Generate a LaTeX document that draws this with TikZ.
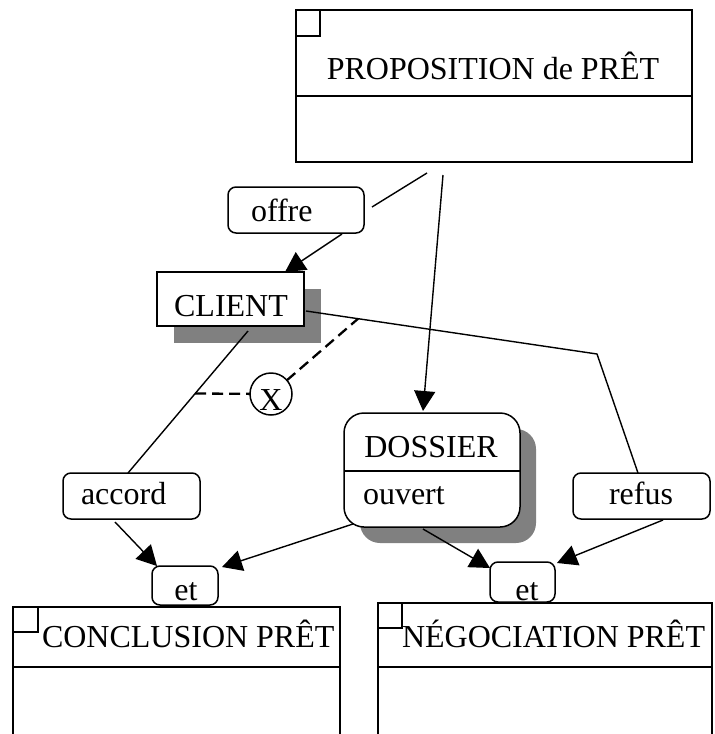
\documentclass[tikz,border=0pt]{standalone}
\usepackage{fontspec}
\setmainfont{Liberation Serif}
\usetikzlibrary{arrows.meta,calc}
\begin{document}
\begin{tikzpicture}[x=1pt,y=-1pt,
  every node/.style={inner sep=0pt, outer sep=0pt},
  lbl/.style={font=\fontsize{32}{38}\selectfont},
  frame/.style={draw, line width=1.5pt, rectangle, fill=white},
  tag/.style={draw, line width=1.5pt, rounded corners=8pt, fill=white},
  link/.style={line width=1.4pt},
  tip/.style={-{Triangle[length=20pt,width=21pt]}},
  shade/.style={fill=black!50, draw=none},
  xdash/.style={line width=2.3pt, dash pattern=on 11pt off 6pt}]
\useasboundingbox (0,0) rectangle (715,734);
\clip (0,0) rectangle (715,734);

% class box: proposition
\node[frame, minimum width=396pt, minimum height=152pt] (prop) at (494,86) {};
\draw[line width=1.5pt] (296,96) -- (692,96);
\draw[line width=1.2pt] (296,10) rectangle (320,36);
\node[lbl, anchor=base] (prop-t) at (493,79) {PROPOSITION de PRÊT};

% client with shadow
\fill[shade] (174,289) rectangle (321,343);
\node[frame, minimum width=147pt, minimum height=54pt] (client) at (230.5,299) {};
\node[lbl, anchor=base] (client-t) at (231,316) {CLIENT};

% label boxes
\node[tag, minimum width=136pt, minimum height=46pt] (offre) at (296,210) {};
\node[lbl, anchor=base west] (offre-t) at (251,221) {offre};
\node[tag, minimum width=137pt, minimum height=46pt] (accord) at (131.5,496) {};
\node[lbl, anchor=base west] (accord-t) at (81,504) {accord};
\node[tag, minimum width=137pt, minimum height=46pt] (refus) at (641.5,496) {};
\node[lbl, anchor=base] (refus-t) at (641,504) {refus};

% dossier state with shadow
\fill[shade, rounded corners=20pt] (360,429) rectangle (536,543);
\node[draw, line width=1.5pt, fill=white, rounded corners=20pt,
      minimum width=176pt, minimum height=114pt] (dossier) at (432,470) {};
\draw[line width=1.5pt] (344,471) -- (520,471);
\node[lbl, anchor=base] (dossier-t) at (431,457) {DOSSIER};
\node[lbl, anchor=base west] (dossier-s) at (363,504) {ouvert};

% connectors from the proposition
\draw[link] ([xshift=-67pt,yshift=-11pt]prop.south) -- ([xshift=8pt,yshift=3pt]offre.east);
\draw[link,tip] ([xshift=46pt,yshift=-1pt]offre.south) -- ([xshift=54.5pt]client.north);
\draw[link,tip] ([xshift=-51pt,yshift=-13pt]prop.south) -- ([xshift=-9pt,yshift=2pt]dossier.north);

% connectors from the client
\coordinate (bend) at (597,354);
\draw[link] ([xshift=2pt,yshift=-12pt]client.east) -- coordinate[pos=0.179] (jr) (bend)
  -- ([xshift=-3.5pt]refus.north);
\draw[link] ([xshift=17.5pt,yshift=-5pt]client.south) -- coordinate[pos=0.44] (jl)
  ([xshift=-3.5pt]accord.north);

% exclusive-or
\node[draw, circle, line width=1.5pt, minimum size=42pt, fill=white] (xor) at (271,394) {};
\node[lbl, anchor=base] (xor-t) at (271,410) {X};
\draw[xdash] (jl) -- (xor);
\draw[xdash] (xor) -- (jr);

% result boxes
\node[frame, minimum width=327pt, minimum height=200pt, anchor=north west] (concl) at (13,607) {};
\draw[line width=1.5pt] (13,667) -- (340,667);
\draw[line width=1.2pt] (13,607) rectangle (38,632);
\node[lbl, anchor=base west] (concl-t) at (42,647) {CONCLUSION PRÊT};

\node[frame, minimum width=334pt, minimum height=200pt, anchor=north west] (nego) at (378,603) {};
\draw[line width=1.5pt] (378,667) -- (712,667);
\draw[line width=1.2pt] (378,603) rectangle (402,628);
\node[lbl, anchor=base west] (nego-t) at (402,647) {NÉGOCIATION PRÊT};

% conjunction tags
\node[tag, minimum width=66pt, minimum height=39pt] (etl) at (185,585.5) {};
\node[lbl, anchor=base] (etl-t) at (186,600) {et};
\node[tag, minimum width=65pt, minimum height=40pt] (etr) at (522.5,582) {};
\node[lbl, anchor=base] (etr-t) at (527,600) {et};

% connectors into the conjunctions
\draw[link,tip] ([xshift=-16.5pt,yshift=-3pt]accord.south) -- ([xshift=-28pt]etl.north);
\draw[link,tip] ([xshift=-79pt,yshift=3pt]dossier.south) -- ([xshift=4pt,yshift=-1pt]etl.north east);
\draw[link,tip] ([xshift=-9pt,yshift=-2pt]dossier.south) -- ([yshift=-6pt]etr.north west);
\draw[link,tip] ([xshift=21.5pt,yshift=-1pt]refus.south) -- ([xshift=2pt,yshift=-1pt]etr.north east);
\end{tikzpicture}
\end{document}
